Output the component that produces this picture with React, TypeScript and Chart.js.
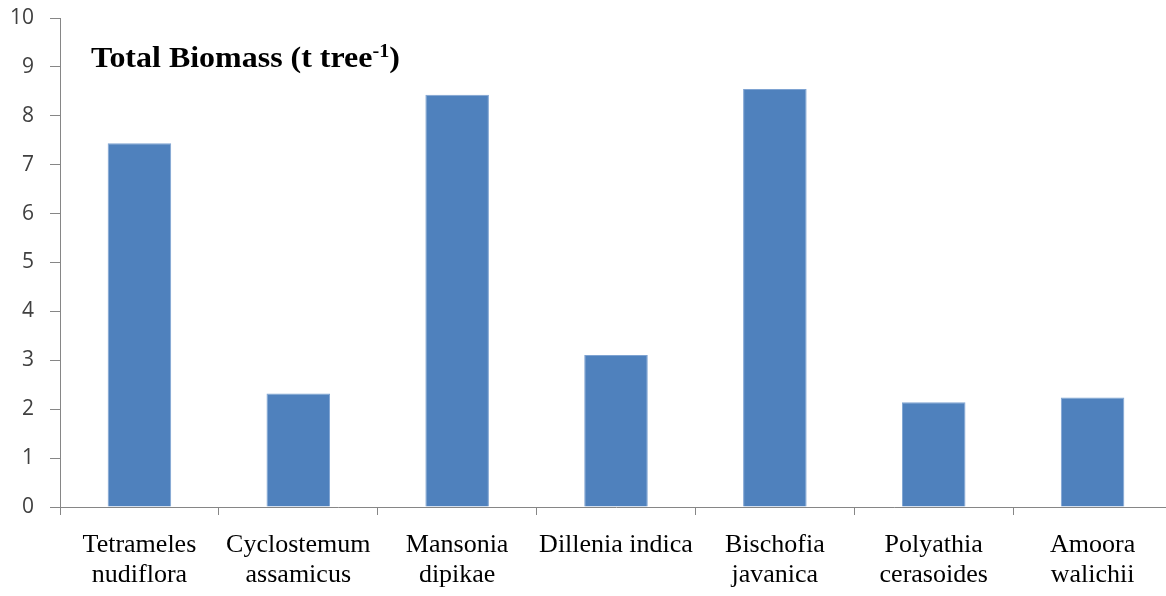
import React, { useEffect, useRef } from "react";
import { Chart, registerables } from "chart.js";

Chart.register(...registerables);

const categories: string[][] = [
  ["Tetrameles", "nudiflora"],
  ["Cyclostemum", "assamicus"],
  ["Mansonia", "dipikae"],
  ["Dillenia indica"],
  ["Bischofia", "javanica"],
  ["Polyathia", "cerasoides"],
  ["Amoora", "walichii"],
];
const biomass: number[] = [7.44, 2.32, 8.43, 3.11, 8.55, 2.14, 2.24];
const yTicks: number[] = [0, 1, 2, 3, 4, 5, 6, 7, 8, 9, 10];
const titleMain = "Total Biomass (t tree";
const titleSup = "-1";
const titleEnd = ")";

const titlePlugin = {
  id: "insideTitle",
  afterDraw(chart: any) {
    const ctx = chart.ctx;
    ctx.save();
    ctx.fillStyle = "#000";
    ctx.textBaseline = "alphabetic";
    ctx.textAlign = "left";
    const x0 = 91;
    const base = 67;
    const bigFont = "bold 30px 'Liberation Serif', 'Times New Roman', serif";
    const smallFont = "bold 19px 'Liberation Serif', 'Times New Roman', serif";
    ctx.font = bigFont;
    const w1 = ctx.measureText(titleMain).width;
    const w3 = ctx.measureText(titleEnd).width;
    ctx.font = smallFont;
    const w2 = ctx.measureText(titleSup).width;
    const sx = 309 / (w1 + w2 + w3);
    ctx.translate(x0, base);
    ctx.scale(sx, 1);
    ctx.font = bigFont;
    ctx.fillText(titleMain, 0, 0);
    ctx.font = smallFont;
    ctx.fillText(titleSup, w1, -10);
    ctx.font = bigFont;
    ctx.fillText(titleEnd, w1 + w2, 0);
    ctx.restore();
  },
};

export default function App() {
  const ref = useRef<HTMLCanvasElement | null>(null);
  useEffect(() => {
    document.body.style.margin = "0";
    document.body.style.overflow = "hidden";
    const axisColor = "#868686";
    const chart = new Chart(ref.current as HTMLCanvasElement, {
      type: "bar",
      data: {
        labels: categories,
        datasets: [
          {
            data: biomass,
            backgroundColor: "#4F81BD",
            borderColor: "#7EA3D2",
            borderWidth: 1,
            categoryPercentage: 1,
            barPercentage: 0.4,
          },
        ],
      },
      options: {
        animation: false,
        responsive: true,
        maintainAspectRatio: false,
        layout: { padding: { top: 18, right: 0, bottom: 0, left: 0 } },
        plugins: {
          legend: { display: false },
          tooltip: { enabled: false },
          title: { display: false },
        },
        scales: {
          x: {
            offset: true,
            grid: {
              offset: true,
              drawOnChartArea: false,
              drawTicks: true,
              tickLength: 8,
              color: axisColor,
            },
            border: { color: axisColor, width: 1 },
            ticks: {
              color: "#000",
              padding: 15,
              maxRotation: 0,
              autoSkip: false,
              font: { family: "'Liberation Serif', 'Times New Roman', serif", size: 26, lineHeight: 1.15 },
            },
            afterFit(scale: any) {
              scale.height = 89;
              scale.paddingLeft = 0;
              scale.paddingRight = 0;
            },
          },
          y: {
            min: 0,
            max: 10,
            afterBuildTicks(scale: any) {
              scale.ticks = yTicks.map((v) => ({ value: v }));
            },
            grid: {
              drawOnChartArea: false,
              drawTicks: true,
              tickLength: 10,
              color: axisColor,
            },
            border: { color: axisColor, width: 1 },
            ticks: {
              color: "#404040",
              padding: 16,
              font: { family: "'Open Sans', 'Noto Sans', sans-serif", size: 21 },
            },
            afterFit(scale: any) {
              scale.width = 60;
              scale.paddingTop = 0;
              scale.paddingBottom = 0;
            },
          },
        },
      },
      plugins: [titlePlugin],
    });
    return () => chart.destroy();
  }, []);
  return (
    <div style={{ position: "fixed", left: 0, top: 0, width: 1172, height: 596, background: "#fff" }}>
      <canvas ref={ref} style={{ width: "100%", height: "100%" }} />
    </div>
  );
}
